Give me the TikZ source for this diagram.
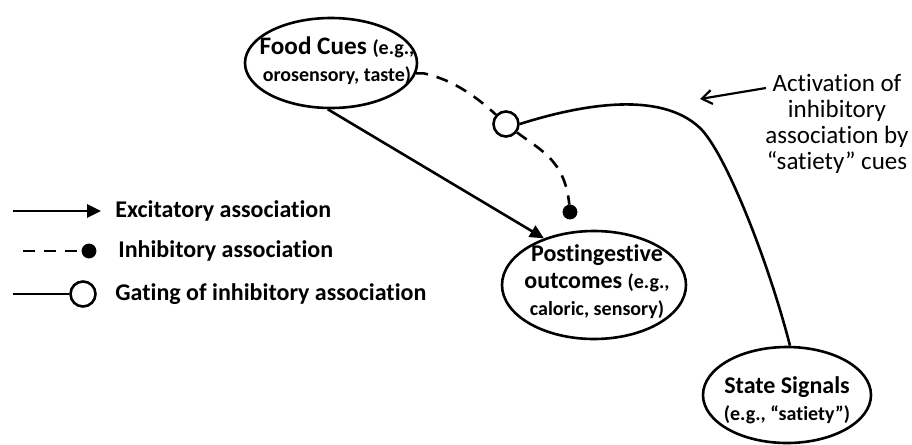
\documentclass[tikz,border=0pt]{standalone}
\usepackage{fontspec}
\setmainfont{Carlito}[RawFeature={-liga}]
\usepackage{tikz}
\usetikzlibrary{shapes.geometric, arrows.meta, positioning, calc}

\newcommand{\mainsz}{\fontsize{12}{13.5}\selectfont}
\newcommand{\subsz}{\fontsize{10}{13.5}\selectfont}

\tikzset{
  ellnode/.style={draw, ellipse, line width=1.3pt, inner sep=0pt},
  elltext/.style={align=center, inner sep=0pt, font=\mainsz\bfseries},
  legtext/.style={anchor=west, inner sep=0pt, font=\mainsz\bfseries},
  excit/.style={line width=1.3pt, -{Triangle[length=7pt, width=6.5pt]}},
  inhib/.style={line width=1.3pt, dash pattern=on 6pt off 4.5pt},
  gating/.style={line width=1.3pt},
  blackdot/.style={circle, fill=black, draw=black, inner sep=0pt, minimum size=7pt},
  opencirc/.style={circle, fill=white, draw=black, line width=1.3pt, inner sep=0pt, minimum size=12.5pt},
}

\begin{document}
\begin{tikzpicture}[x=0.5pt, y=-0.5pt]
  \useasboundingbox (0,0) rectangle (912,445);

  % Main nodes
  \node[ellnode, minimum width=86pt, minimum height=45pt] (food) at (331,63) {};
  \node[elltext] (foodtxt) at (337,61)
    {\fontsize{12.6}{13.5}\selectfont Food Cues {\subsz(e.g.,}\\{\subsz orosensory, taste)}};
  \node[ellnode, minimum width=92pt, minimum height=54pt] (post) at (594,285) {};
  \node[elltext] (posttxt) at (597,282)
    {Postingestive\\outcomes {\subsz(e.g.,}\\{\subsz caloric, sensory)}};
  \node[ellnode, minimum width=84pt, minimum height=48pt] (state) at (787,395) {};
  \node[elltext] (statetxt) at (787,400)
    {State Signals\\{\subsz(e.g., “satiety”)}};

  % Excitatory link
  \draw[excit] (food.266) -- (post.137);

  % Inhibitory link, gated
  \node[blackdot] (inhdot) at (570,212) {};
  \node[opencirc] (gate) at (506,124) {};
  \draw[inhib] (food.-7) -- ++(8,0) .. controls (455,80) and (480,100) .. (gate);
  \draw[inhib] (gate) .. controls (540,150) and (565,160) .. (inhdot);

  % Gating by state signals
  \coordinate (bend) at (700,128);
  \draw[gating] (gate.east) .. controls (580,105) and (660,90) .. (bend)
    .. controls (725,152) and (768,260) .. ([xshift=1.5pt]state.north);

  % Annotation
  \node[align=center, font=\fontsize{12.5}{13}\selectfont] (note) at (837,124)
    {Activation of\\inhibitory\\association by\\“satiety” cues};
  \coordinate (notetip) at (700,99);
  \draw[line width=1.1pt, -{Straight Barb[length=5pt, width=7pt]}] (766,88) -- (notetip);

  % Legend
  \node[legtext] (exclbl) at (115,211) {Excitatory association};
  \coordinate (excfrom) at (13,211);
  \coordinate (excto) at (101,211);
  \draw[excit] (excfrom) -- (excto);

  \node[legtext] (inhlbl) at (118,251) {Inhibitory association};
  \node[blackdot] (inhleg) at (89,251) {};
  \coordinate (inhfrom) at (23,251);
  \draw[inhib] (inhfrom) -- (inhleg);

  \node[legtext] (gatlbl) at (115,294) {Gating of inhibitory association};
  \node[opencirc] (gatleg) at (83,294) {};
  \coordinate (gatfrom) at (13,294);
  \draw[gating] (gatfrom) -- (gatleg);
\end{tikzpicture}
\end{document}
